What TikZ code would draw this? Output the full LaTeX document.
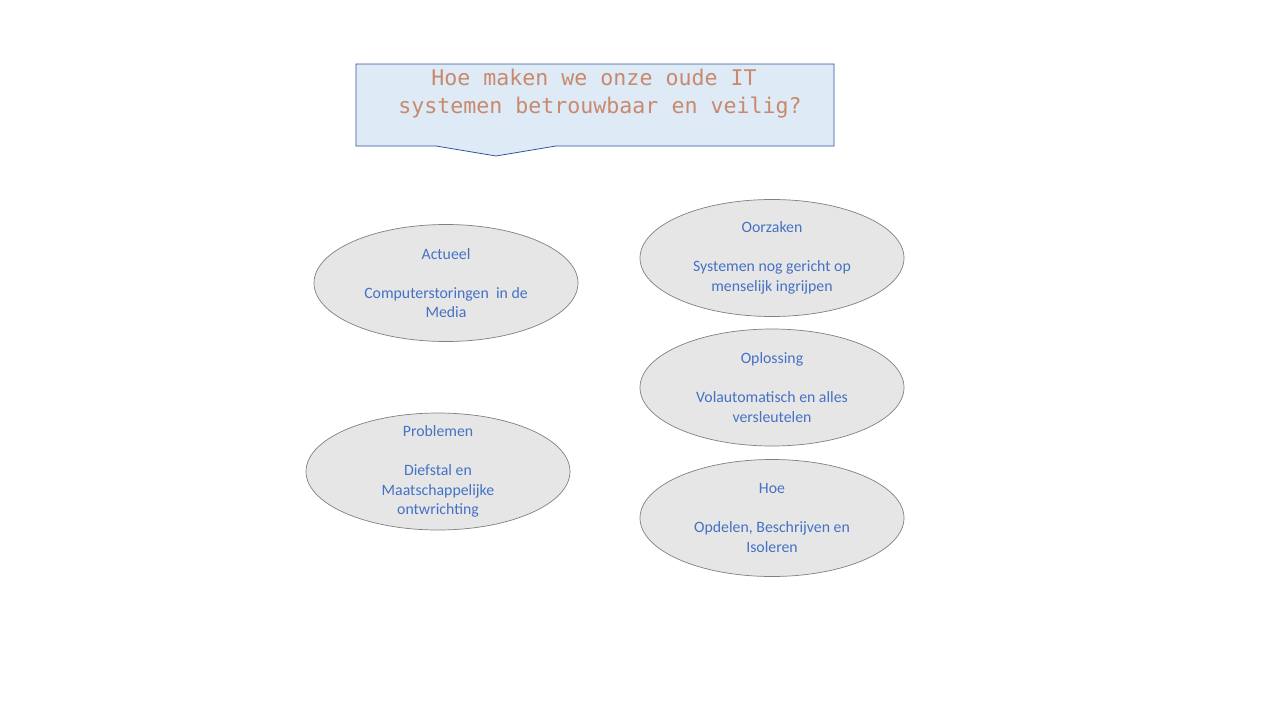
\documentclass[tikz,border=0pt]{standalone}
\usepackage{fontspec}
\setmainfont{Carlito}
\newfontfamily\titlefont{DejaVu Sans Mono}
\usetikzlibrary{shapes.geometric}
\definecolor{calloutfill}{HTML}{DEEBF7}
\definecolor{calloutline}{HTML}{2F5597}
\definecolor{titletext}{HTML}{C8896D}
\definecolor{ellfill}{HTML}{E7E6E6}
\definecolor{ellline}{HTML}{808080}
\definecolor{elltext}{HTML}{4472C4}
\tikzset{
  topic/.style={ellipse, draw=ellline, fill=ellfill, line width=0.7pt,
    minimum width=264pt, minimum height=117pt, inner sep=0pt,
    align=center, text=elltext,
    font=\fontsize{15.8pt}{19.5pt}\selectfont},
  titlestyle/.style={align=center, text=titletext, inner sep=0pt,
    font=\titlefont\fontsize{21.6pt}{28pt}\selectfont}
}
\begin{document}
\begin{tikzpicture}[x=1pt,y=-1pt]
\useasboundingbox[fill=white] (0,0) rectangle (1280,720);
% callout
\coordinate (c1) at (356,64);
\coordinate (c2) at (834,64);
\coordinate (c3) at (834,146);
\coordinate (c4) at (556,146);
\coordinate (tip) at (496,156);
\coordinate (c5) at (436,146);
\coordinate (c6) at (356,146);
\draw[calloutline, fill=calloutfill, line width=0.8pt, line join=miter]
  (c1) -- (c2) -- (c3) -- (c4) -- (tip) -- (c5) -- (c6) -- cycle;
\node[titlestyle, anchor=base] (title) at (600,113)
  {Hoe maken we onze oude IT\hspace*{12pt}\\systemen betrouwbaar en veilig?};
% topics
\node[topic] (actueel) at (446,283)
  {Actueel\\\mbox{}\\Computerstoringen\ \ in de\\Media};
\node[topic] (oorzaken) at (772,258)
  {Oorzaken\\\mbox{}\\Systemen nog gericht op\\menselijk ingrijpen};
\node[topic] (oplossing) at (772,387.5)
  {Oplossing\\\mbox{}\\Volautomatisch en alles\\versleutelen};
\node[topic, inner ysep=-7pt] (problemen) at (438,471.5)
  {Problemen\\\mbox{}\\Diefstal en\\Maatschappelijke\\ontwrichting};
\node[topic] (hoe) at (772,518)
  {Hoe\\\mbox{}\\Opdelen, Beschrijven en\\Isoleren};
\end{tikzpicture}
\end{document}
